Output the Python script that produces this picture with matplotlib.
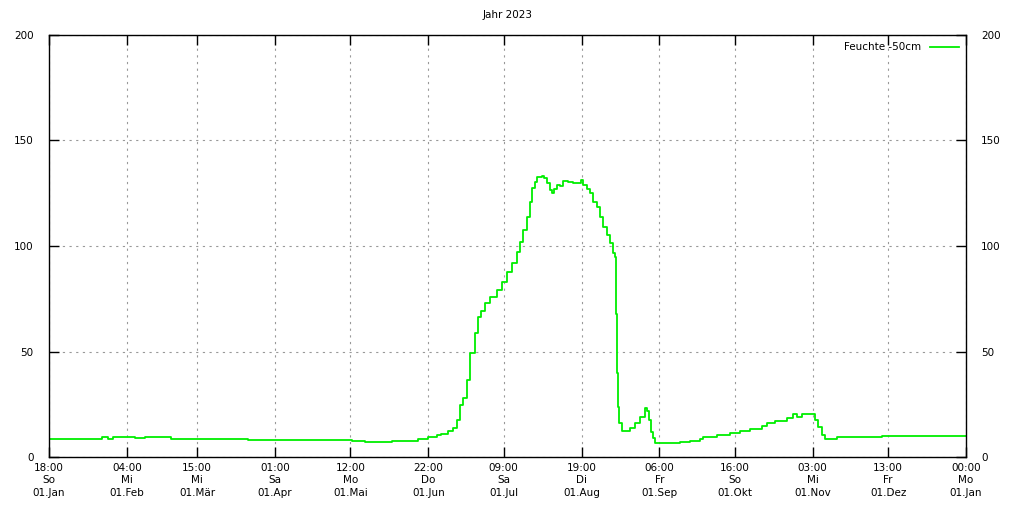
import matplotlib
matplotlib.use("Agg")
import matplotlib.pyplot as plt
import numpy as np

# Day of year (0..365) and soil moisture values (steps)
days = [0, 21.1, 23.5, 25.5, 34.2, 38.2, 48.4, 79.3, 120.5, 125.8, 136.4, 146.9,
        150.9, 154.4, 156.0, 158.8, 160.8, 162.3, 163.6, 164.7, 166.3, 167.6,
        169.6, 170.9, 171.8, 173.5, 175.5, 178.2, 180.2, 182.2, 184.2, 186.2,
        187.5, 188.8, 190.2, 191.5, 192.4, 193.4, 194.4, 196.1, 197.0, 198.1,
        199.4, 200.1, 201.1, 202.3, 203.4, 204.7, 206.7, 208.7, 210.3, 211.6,
        212.7, 214.3, 215.3, 216.4, 218.0, 219.3, 220.6, 222.0, 223.3, 224.4,
        225.3, 225.6, 225.7, 226.0, 226.4, 227.0, 228.0, 230.6, 231.3, 233.3,
        235.3, 237.3, 238.2, 238.8, 239.5, 240.5, 241.2, 251.2, 255.1, 259.1,
        260.4, 265.8, 271.1, 275.0, 279.0, 283.7, 285.7, 289.0, 293.6, 296.3,
        297.6, 299.6, 303.6, 304.9, 306.2, 307.6, 308.9, 312.9, 313.5, 320.0,
        331.6, 365]
values = [8.5, 9.5, 8.7, 9.5, 8.8, 9.6, 8.6, 8.0, 7.4, 6.9, 7.8, 8.5,
          9.5, 10.3, 11.0, 12.3, 13.7, 17.5, 24.6, 27.8, 36.5, 49.3,
          58.8, 66.5, 69.2, 72.8, 75.7, 79.1, 83.1, 87.8, 91.8, 97.3,
          102.0, 107.6, 113.9, 121.0, 127.3, 130.5, 132.8, 133.2, 132.1, 129.7,
          126.5, 125.0, 126.9, 128.9, 128.4, 131.0, 130.5, 130.0, 129.7, 131.3,
          128.9, 126.9, 125.0, 121.0, 118.6, 113.9, 109.1, 105.2, 101.3, 96.5,
          94.9, 87.2, 68.0, 39.8, 23.8, 16.1, 12.5, 12.5, 13.6, 16.0,
          19.1, 23.1, 21.9, 17.5, 12.0, 8.9, 6.5, 7.3, 7.7, 8.4,
          9.3, 10.3, 11.2, 12.2, 13.4, 14.8, 16.0, 17.2, 18.6, 20.2,
          19.1, 20.2, 20.2, 17.5, 14.4, 10.4, 8.5, 8.5, 9.3, 9.6,
          10.0, 10.0]

# Tick positions: first day of each month (day of year), plus year end
tick_days = [0, 31, 59, 90, 120, 151, 181, 212, 243, 273, 304, 334, 365]
tick_labels = [
    "18:00\nSo\n01.Jan", "04:00\nMi\n01.Feb", "15:00\nMi\n01.Mär",
    "01:00\nSa\n01.Apr", "12:00\nMo\n01.Mai", "22:00\nDo\n01.Jun",
    "09:00\nSa\n01.Jul", "19:00\nDi\n01.Aug", "06:00\nFr\n01.Sep",
    "16:00\nSo\n01.Okt", "03:00\nMi\n01.Nov", "13:00\nFr\n01.Dez",
    "00:00\nMo\n01.Jan",
]
yticks = [0, 50, 100, 150, 200]

plt.rcParams['font.family'] = ['DejaVu Sans']
fig = plt.figure(figsize=(10.15, 5.07), dpi=100)
ax = fig.add_axes([0.0483, 0.0986, 0.9034, 0.8324])

ax.plot(days, values, drawstyle='steps-post', color='#00ee00', lw=1.3,
        label='Feuchte -50cm')

ax.set_xlim(0, 365)
ax.set_ylim(0, 200)
ax.set_xticks(tick_days)
ax.set_xticklabels(tick_labels, fontsize=7.5, linespacing=1.35)
ax.set_yticks(yticks)
ax.set_yticklabels([str(v) for v in yticks], fontsize=7.5)
ax.tick_params(axis='both', direction='in', length=7, width=1,
               top=True, right=True, labelright=True)
ax.tick_params(axis='y', pad=11)
ax.tick_params(axis='x', pad=4)
ax.grid(True, color='#999999', linestyle=(0, (2, 4)), linewidth=0.8)
for s in ax.spines.values():
    s.set_linewidth(1.0)

ax.set_title('Jahr 2023', fontsize=7.5, pad=12)
leg = ax.legend(loc='upper right', frameon=False, fontsize=7.5,
                markerfirst=False, handlelength=2.8, borderaxespad=0.3,
                handletextpad=0.8)

fig.savefig('out.png', dpi=100)
